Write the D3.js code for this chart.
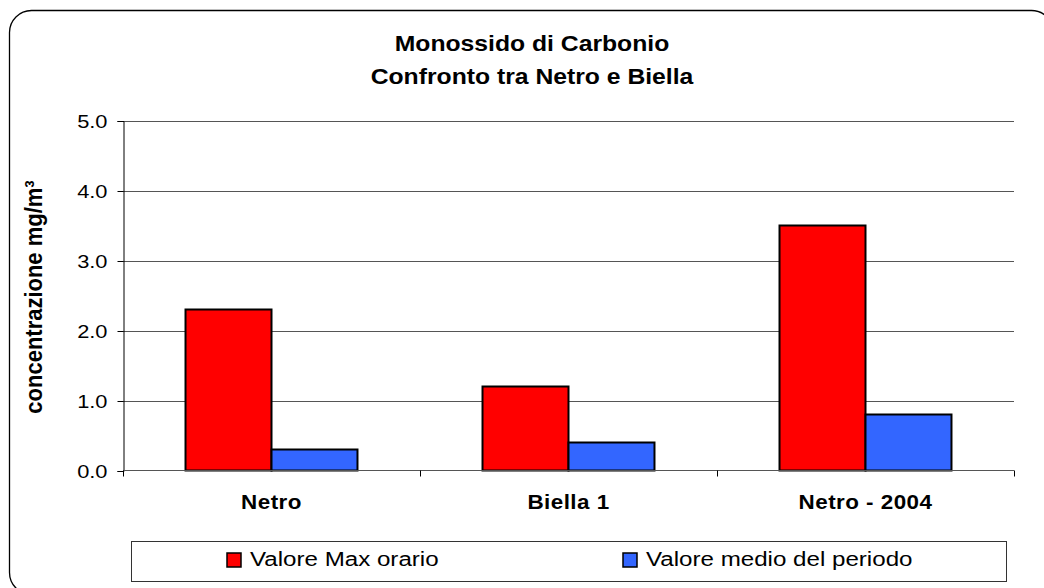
<!DOCTYPE html>
<html>
<head>
<meta charset="utf-8">
<script src="https://cdn.jsdelivr.net/npm/d3@7/dist/d3.min.js"></script>
<style>
  body { margin: 0; background: #fff; }
  svg { display: block; font-family: "Liberation Sans", Arial, sans-serif; }
</style>
</head>
<body>
<svg id="chart" width="1044" height="588"></svg>
<script>
// data
const categories = ["Netro", "Biella 1", "Netro - 2004"];
const seriesNames = ["Valore Max orario", "Valore medio del periodo"];
const maxOrario = [2.3, 1.2, 3.5];
const medioPeriodo = [0.3, 0.4, 0.8];
const yTicks = [0, 1, 2, 3, 4, 5];
const colors = ["#ff0000", "#3366ff"];

const svg = d3.select("#chart");
const sx = 1.15; // the picture's text is a bit wide, stretch it horizontally

let plot = {left: 123, right: 1014, top: 120.5, bottom: 470.5};

// outer rounded frame
svg.append("rect")
    .attr("x", 9.5).attr("y", 10.5)
    .attr("width", 1044).attr("height", 584)
    .attr("rx", 22).attr("ry", 22)
    .attr("fill", "#fff")
    .attr("stroke", "#000")
    .attr("stroke-width", 1.3);

// helper for stretched text
function label(x, y, txt, size, weight, anchor) {
    let g = svg.append("g").attr("transform", "translate(" + x + "," + y + ") scale(" + sx + ",1)");
    return g.append("text")
        .attr("text-anchor", anchor || "middle")
        .attr("font-size", size)
        .attr("font-weight", weight || "normal")
        .attr("fill", "#000")
        .text(txt);
}

// title
label(532, 51, "Monossido di Carbonio", 21.5, "bold");
label(532, 84, "Confronto tra Netro e Biella", 21.5, "bold");

let x0 = d3.scaleBand()
    .domain(categories)
    .range([plot.left, plot.right])
    .paddingInner(0).paddingOuter(0);

let x1 = d3.scaleBand()
    .domain(seriesNames)
    .range([0, x0.bandwidth()])
    .paddingInner(0).paddingOuter(0.727);

let y = d3.scaleLinear()
    .domain([0, 5])
    .range([plot.bottom, plot.top]);

// gridlines
svg.append("g").selectAll("line")
    .data(yTicks.filter(d => d > 0))
    .join("line")
    .attr("x1", plot.left).attr("x2", plot.right)
    .attr("y1", d => Math.round(y(d)) + 0.5).attr("y2", d => Math.round(y(d)) + 0.5)
    .attr("stroke", "#555")
    .attr("stroke-width", 1);

// y axis
let yAxis = svg.append("g")
    .attr("transform", "translate(" + (plot.left + 0.5) + ",0.5)")
    .call(d3.axisLeft(y).tickValues(yTicks).tickFormat(d3.format(".1f")).tickSize(6).tickPadding(10));
yAxis.select(".domain").attr("stroke", "#000");
yAxis.selectAll(".tick line").attr("stroke", "#000");
yAxis.selectAll(".tick text")
    .attr("font-size", 19)
    .attr("font-family", "Liberation Sans, Arial, sans-serif")
    .attr("fill", "#000")
    .attr("transform", "scale(" + sx + ",1)")
    .attr("x", -16 / sx);

// bars
let groups = svg.append("g").selectAll("g")
    .data(categories.map((c, i) => ({cat: c, vals: [maxOrario[i], medioPeriodo[i]]})))
    .join("g")
    .attr("transform", d => "translate(" + x0(d.cat) + ",0)");

groups.selectAll("rect")
    .data(d => d.vals.map((v, j) => ({s: seriesNames[j], v: v, j: j})))
    .join("rect")
    .attr("x", d => x1(d.s))
    .attr("width", x1.bandwidth())
    .attr("y", d => y(d.v))
    .attr("height", d => y(0) - y(d.v))
    .attr("fill", d => colors[d.j])
    .attr("stroke", "#000")
    .attr("stroke-width", 2);

// x axis baseline and ticks at category boundaries
svg.append("line")
    .attr("x1", plot.left).attr("x2", plot.right)
    .attr("y1", plot.bottom).attr("y2", plot.bottom)
    .attr("stroke", "#555");
let bounds = categories.map(c => x0(c)).concat([plot.right]);
svg.append("g").selectAll("line")
    .data(bounds)
    .join("line")
    .attr("x1", d => Math.round(d) + 0.5).attr("x2", d => Math.round(d) + 0.5)
    .attr("y1", plot.bottom).attr("y2", plot.bottom + 6)
    .attr("stroke", "#000");

categories.forEach(c => {
    label(x0(c) + x0.bandwidth() / 2, 509, c, 19.5, "bold").attr("letter-spacing", 0.4);
});

// y axis label
svg.append("g")
    .attr("transform", "translate(42,297) rotate(-90) scale(1,1.1)")
    .append("text")
    .attr("text-anchor", "middle")
    .attr("font-size", 22)
    .attr("font-weight", "bold")
    .text("concentrazione mg/m³");

// legend
svg.append("rect")
    .attr("x", 131.5).attr("y", 541.5)
    .attr("width", 875).attr("height", 40)
    .attr("fill", "#fff")
    .attr("stroke", "#333");

let legendX = [227, 623];
seriesNames.forEach((s, i) => {
    svg.append("rect")
        .attr("x", legendX[i]).attr("y", 553)
        .attr("width", 14).attr("height", 14)
        .attr("fill", colors[i])
        .attr("stroke", "#000")
        .attr("stroke-width", 1.5);
    label(legendX[i] + 23, 566, s, 21, "normal", "start");
});
</script>
</body>
</html>
